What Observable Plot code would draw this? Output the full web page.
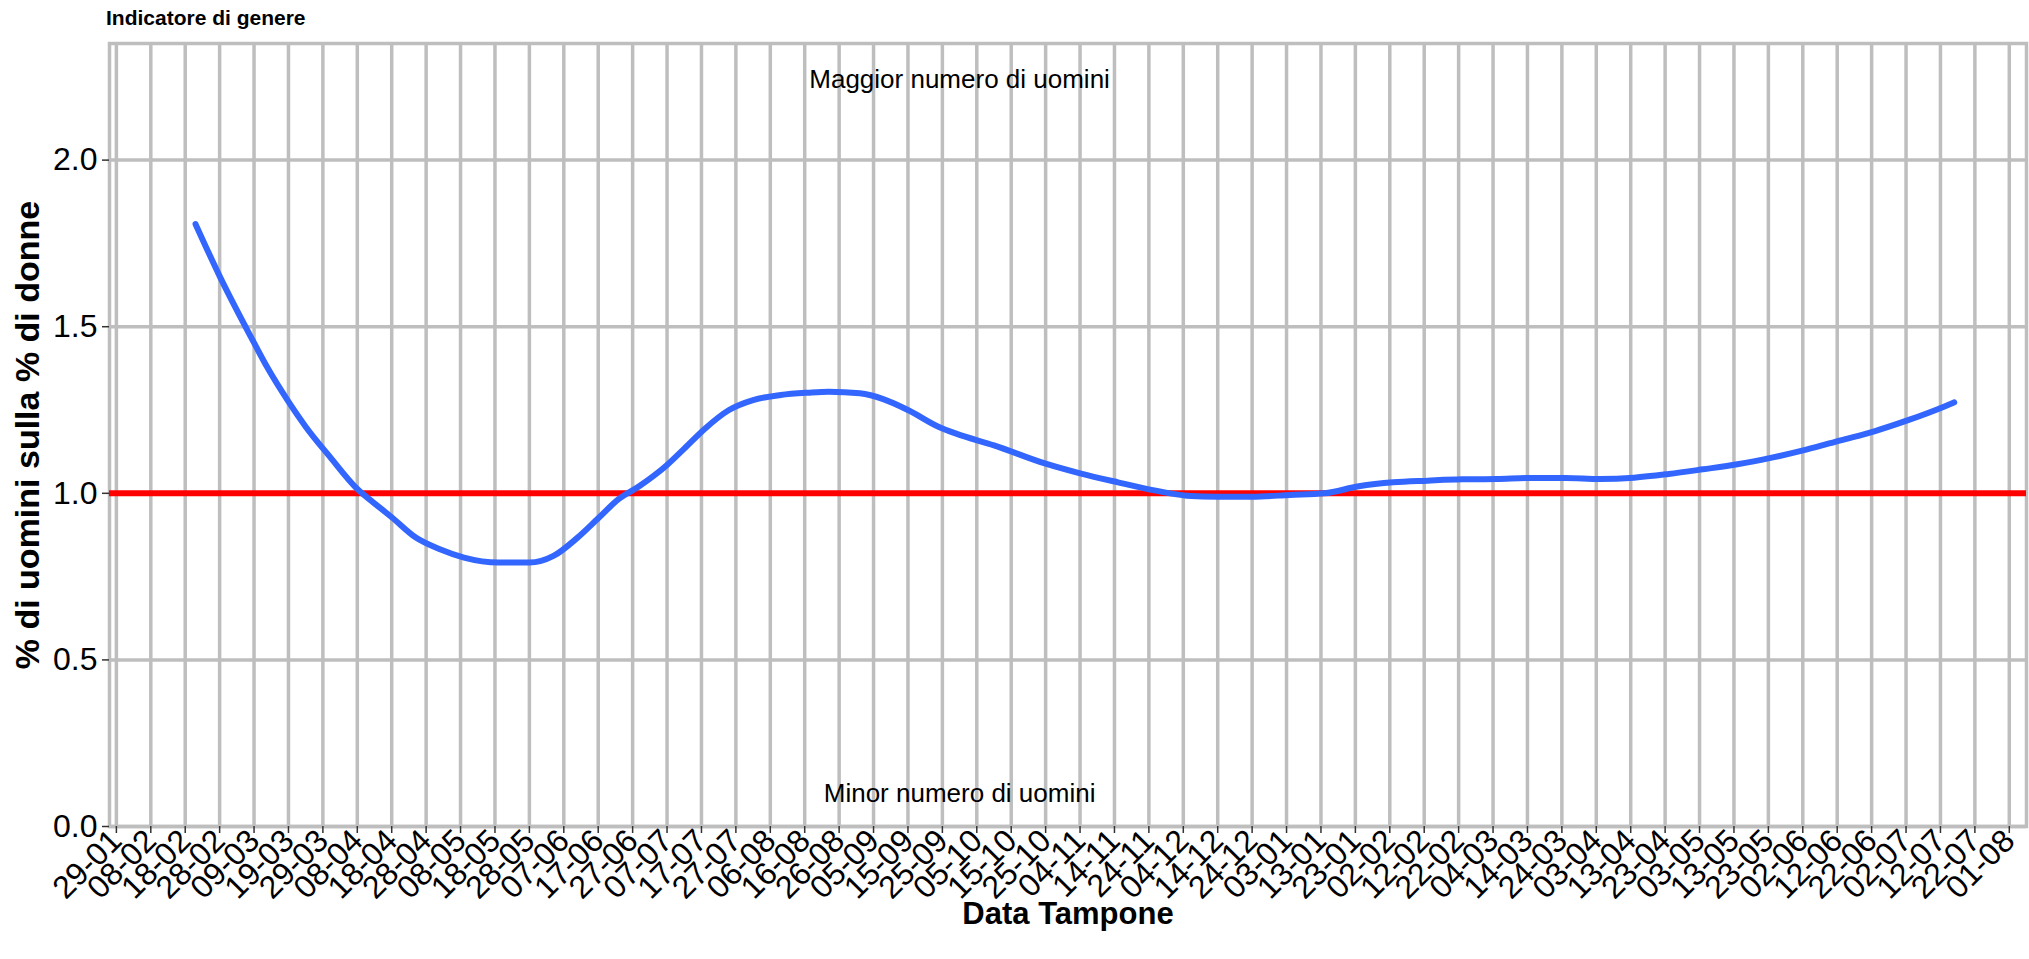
<!DOCTYPE html>
<html>
<head>
<meta charset="utf-8">
<script src="https://cdn.jsdelivr.net/npm/d3@7"></script>
<script src="https://cdn.jsdelivr.net/npm/@observablehq/plot@0.6"></script>
<style>
  html, body { margin: 0; padding: 0; background: #fff; }
  body { width: 2029px; height: 959px; overflow: hidden; font-family: "Liberation Sans", Arial, sans-serif; }
  #title { height: 32px; box-sizing: border-box; padding-top: 4px; padding-left: 106px; line-height: 28px; font-size: 21px; font-weight: bold; color: #000; }
</style>
</head>
<body>
<div id="title">Indicatore di genere</div>
<div id="chart"></div>
<script>
// ---- Data ----
const dates = [
  "2020-02-21","2020-02-28","2020-03-08","2020-03-13","2020-03-19","2020-03-24","2020-03-31",
  "2020-04-08","2020-04-12","2020-04-18","2020-04-25","2020-05-02","2020-05-09","2020-05-19",
  "2020-05-28","2020-06-04","2020-06-11","2020-06-17","2020-06-23","2020-06-29","2020-07-07",
  "2020-07-12","2020-07-18","2020-07-25","2020-08-01","2020-08-09","2020-08-17","2020-08-23",
  "2020-09-01","2020-09-08","2020-09-15","2020-09-24","2020-09-29","2020-10-10","2020-10-25",
  "2020-11-04","2020-11-15","2020-11-26","2020-12-05","2020-12-14","2020-12-24","2021-01-04",
  "2021-01-14","2021-01-24","2021-02-03","2021-02-13","2021-02-23","2021-03-05","2021-03-15",
  "2021-03-25","2021-04-04","2021-04-14","2021-04-24","2021-05-04","2021-05-14","2021-05-24",
  "2021-06-03","2021-06-13","2021-06-23","2021-07-03","2021-07-13","2021-07-16"
];
const ratio = [
  1.808,1.652,1.471,1.375,1.275,1.200,1.110,
  1.013,0.978,0.928,0.867,0.832,0.807,0.792,
  0.792,0.812,0.867,0.925,0.983,1.022,1.085,
  1.134,1.194,1.250,1.280,1.295,1.302,1.305,
  1.300,1.282,1.250,1.199,1.179,1.144,1.089,
  1.060,1.033,1.008,0.993,0.990,0.990,0.995,
  1.000,1.021,1.033,1.038,1.042,1.043,1.046,
  1.046,1.043,1.047,1.058,1.072,1.087,1.107,
  1.131,1.159,1.187,1.221,1.260,1.273
];
const tickDates = [
  "2020-01-29","2020-02-08","2020-02-18","2020-02-28","2020-03-09","2020-03-19","2020-03-29",
  "2020-04-08","2020-04-18","2020-04-28","2020-05-08","2020-05-18","2020-05-28","2020-06-07",
  "2020-06-17","2020-06-27","2020-07-07","2020-07-17","2020-07-27","2020-08-06","2020-08-16",
  "2020-08-26","2020-09-05","2020-09-15","2020-09-25","2020-10-05","2020-10-15","2020-10-25",
  "2020-11-04","2020-11-14","2020-11-24","2020-12-04","2020-12-14","2020-12-24","2021-01-03",
  "2021-01-13","2021-01-23","2021-02-02","2021-02-12","2021-02-22","2021-03-04","2021-03-14",
  "2021-03-24","2021-04-03","2021-04-13","2021-04-23","2021-05-03","2021-05-13","2021-05-23",
  "2021-06-02","2021-06-12","2021-06-22","2021-07-02","2021-07-12","2021-07-22","2021-08-01"
];
const yTicks = [0, 0.5, 1.0, 1.5, 2.0];
const referenceValue = 1;
const annotationTexts = ["Maggior numero di uomini", "Minor numero di uomini"];
const annotationDates = ["2020-09-30", "2020-09-30"];
const annotationValues = [2.24, 0.10];
const xLabel = "Data Tampone";
const yLabel = "% di uomini sulla % di donne";

// ---- Build tables ----
const series = dates.map((d, i) => ({date: new Date(d), value: ratio[i]}));
const ticks = tickDates.map(d => new Date(d));
const notes = annotationTexts.map((t, i) => ({text: t, date: new Date(annotationDates[i]), value: annotationValues[i]}));
const grey = "#bebebe";
const fmt = d3.utcFormat("%d-%m");

const chart = Plot.plot({
  width: 2029,
  height: 927,
  marginLeft: 109,
  marginRight: 3,
  marginTop: 11,
  marginBottom: 133,
  style: {fontFamily: "'Liberation Sans', Arial, sans-serif", background: "#fff", color: "#000", overflow: "visible"},
  x: {type: "utc", domain: [new Date("2020-01-27"), new Date("2021-08-06")]},
  y: {domain: [0, 2.35]},
  marks: [
    Plot.gridX(ticks, {stroke: grey, strokeOpacity: 1, strokeWidth: 3.5}),
    Plot.gridY(yTicks, {stroke: grey, strokeOpacity: 1, strokeWidth: 3.5}),
    Plot.frame({stroke: grey, strokeWidth: 3.5}),
    Plot.axisY({ticks: yTicks, tickFormat: d3.format(".1f"), fontSize: 32, tickSize: 7, tickPadding: 5, label: null, stroke: "#333", strokeWidth: 1.5}),
    Plot.axisX({ticks: ticks, tickFormat: fmt, tickRotate: -45, fontSize: 32, tickSize: 7, tickPadding: 2, label: null, stroke: "#333", strokeWidth: 1.5}),
    Plot.ruleY([referenceValue], {stroke: "#ff0000", strokeWidth: 6}),
    Plot.line(series, {x: "date", y: "value", stroke: "#3366ff", strokeWidth: 6, curve: "monotone-x"}),
    Plot.text(notes, {x: "date", y: "value", text: "text", fontSize: 26, fill: "#000", textAnchor: "middle", lineAnchor: "middle"}),
    Plot.text([yLabel], {frameAnchor: "left", dx: -81, rotate: -90, fontSize: 34, fontWeight: "bold", fill: "#000", textAnchor: "middle", lineAnchor: "middle"}),
    Plot.text([xLabel], {frameAnchor: "bottom", dy: 88, fontSize: 31, fontWeight: "bold", fill: "#000", textAnchor: "middle", lineAnchor: "middle"})
  ]
});
document.getElementById("chart").appendChild(chart);
</script>
</body>
</html>
